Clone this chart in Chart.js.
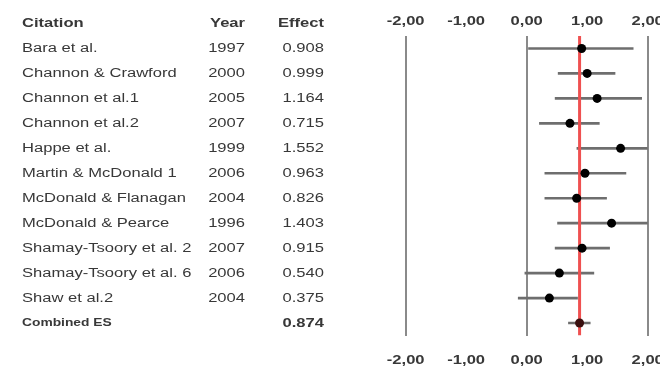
<!DOCTYPE html>
<html>
<head>
<meta charset="utf-8">
<script src="https://cdn.jsdelivr.net/npm/chart.js@4"></script>
<style>
  html, body { margin: 0; padding: 0; background: #fff; overflow: hidden; }
  #wrap { width: 680px; height: 371px; }
</style>
</head>
<body>
<div id="wrap"><canvas id="forest-chart" width="680" height="371"></canvas></div>
<script>
const studies = [
  'Bara et al.', 'Channon & Crawford', 'Channon et al.1', 'Channon et al.2',
  'Happe et al.', 'Martin & McDonald 1', 'McDonald & Flanagan', 'McDonald & Pearce',
  'Shamay-Tsoory et al. 2', 'Shamay-Tsoory et al. 6', 'Shaw et al.2'
];
const years = [1997, 2000, 2005, 2007, 1999, 2006, 2004, 1996, 2007, 2006, 2004];
const effects = [0.908, 0.999, 1.164, 0.715, 1.552, 0.963, 0.826, 1.403, 0.915, 0.540, 0.375];
const ciLow = [0.03, 0.52, 0.47, 0.21, 0.83, 0.30, 0.30, 0.51, 0.47, -0.03, -0.14];
const ciHigh = [1.76, 1.46, 1.90, 1.20, 2.27, 1.64, 1.32, 2.29, 1.37, 1.11, 0.84];
const combinedEs = 0.874;
const combinedLow = 0.69;
const combinedHigh = 1.05;
const xTicks = [-2, -1, 0, 1, 2];
const xTickLabels = ['-2,00', '-1,00', '0,00', '1,00', '2,00'];

const STRETCH = 1.38;
const TEXT_COLOR = '#383838';

const allEffects = [...effects, combinedEs];
const allLow = [...ciLow, combinedLow];
const allHigh = [...ciHigh, combinedHigh];

// text in this figure is drawn a bit wide, so scale it horizontally
const drawWideText = (ctx, text, x, y, align, font) => {
  ctx.save();
  ctx.translate(x, y);
  ctx.scale(STRETCH, 1);
  ctx.font = font;
  ctx.fillStyle = TEXT_COLOR;
  ctx.textAlign = align;
  ctx.textBaseline = 'middle';
  ctx.fillText(text, 0, 0);
  ctx.restore();
};

const tablePlugin = {
  id: 'forestTable',
  afterDraw: (chart) => {
    const ctx = chart.ctx;
    const yScale = chart.scales.y;
    const xScale = chart.scales.x;
    const regular = '12px "Liberation Sans", Arial, sans-serif';
    const bold = 'bold 12px "Liberation Sans", Arial, sans-serif';

    const headerY = yScale.getPixelForValue(-1);
    drawWideText(ctx, 'Citation', 22, headerY, 'left', bold);
    drawWideText(ctx, 'Year', 245, headerY, 'right', bold);
    drawWideText(ctx, 'Effect', 324, headerY, 'right', bold);

    studies.forEach((name, i) => {
      const y = yScale.getPixelForValue(i) + 0.5;
      drawWideText(ctx, name, 22, y, 'left', regular);
      drawWideText(ctx, String(years[i]), 245, y, 'right', regular);
      drawWideText(ctx, effects[i].toFixed(3), 324, y, 'right', regular);
    });

    const cy = yScale.getPixelForValue(studies.length);
    drawWideText(ctx, 'Combined ES', 22, cy, 'left', 'bold 10px "Liberation Sans", Arial, sans-serif');
    drawWideText(ctx, combinedEs.toFixed(3), 324, cy + 0.5, 'right', bold);

    // axis labels above and below the plot
    xScale.ticks.forEach((tick, i) => {
      const x = xScale.getPixelForValue(tick.value);
      drawWideText(ctx, xTickLabels[i], x, 22, 'center', bold);
      drawWideText(ctx, xTickLabels[i], x, 361, 'center', bold);
    });
  }
};

const ctx = document.getElementById('forest-chart');
new Chart(ctx, {
  data: {
    datasets: [
      {
        type: 'scatter',
        data: allEffects.map((v, i) => ({ x: v, y: i })),
        backgroundColor: allEffects.map((v, i) => i === studies.length ? '#3a1010' : '#000000'),
        borderWidth: 0,
        pointRadius: 4.5,
        order: 0
      },
      {
        type: 'line',
        data: [{ x: combinedEs, y: -0.5 }, { x: combinedEs, y: studies.length + 0.5 }],
        borderColor: '#ef5050',
        borderWidth: 3,
        pointRadius: 0,
        order: 1
      },
      {
        type: 'bar',
        indexAxis: 'y',
        data: allLow.map((lo, i) => ({ x: [lo, allHigh[i]], y: i })),
        backgroundColor: '#6e6e6e',
        borderWidth: 0,
        barThickness: 2,
        grouped: false,
        order: 2
      }
    ]
  },
  options: {
    responsive: false,
    animation: false,
    layout: {
      padding: { left: 405.7, right: 32.3, top: 36, bottom: 35.5 }
    },
    scales: {
      x: {
        type: 'linear',
        min: -2,
        max: 2,
        offset: false,
        afterBuildTicks: (scale) => {
          scale.ticks = xTicks.map(v => ({ value: v }));
        },
        ticks: { display: false },
        border: { display: false },
        grid: {
          offset: false,
          drawTicks: false,
          lineWidth: 2,
          color: (c) => (c.tick && c.tick.value % 2 === 0) ? '#8a8a8a' : 'rgba(0,0,0,0)'
        }
      },
      y: {
        type: 'linear',
        display: false,
        offset: false,
        reverse: true,
        min: -0.5,
        max: studies.length + 0.5
      }
    },
    plugins: {
      legend: { display: false },
      tooltip: { enabled: false }
    }
  },
  plugins: [tablePlugin]
});
</script>
</body>
</html>
